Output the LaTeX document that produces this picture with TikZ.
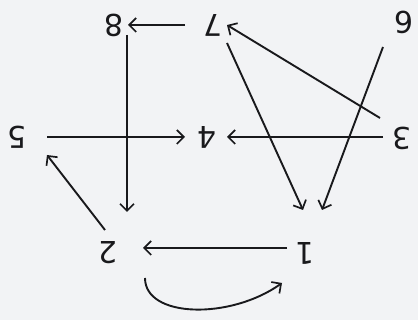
\documentclass[tikz,border=0pt]{standalone}
\usepackage{fontspec}
\newfontfamily\digitfont{DejaVu Sans}
\usetikzlibrary{arrows.meta}
\definecolor{bgc}{RGB}{242,243,245}
\definecolor{ink}{RGB}{25,25,28}
\begin{document}
\begin{tikzpicture}[x=1pt,y=-1pt,
  num/.style={inner sep=0pt,rotate=180,font=\digitfont\fontsize{30}{30}\selectfont,text=ink},
  arr/.style={draw=ink,line width=1.9pt,-{Straight Barb[length=7pt,width=14pt,line width=1.7pt]}}]
\fill[bgc] (0,0) rectangle (418,320);
\useasboundingbox (0,0) rectangle (418,320);
\node[num] (n1) at (305,253) {1};
\node[num] (n2) at (108,253) {2};
\node[num] (n3) at (402,138) {3};
\node[num] (n4) at (207,137) {4};
\node[num] (n5) at (17,137) {5};
\node[num] (n6) at (404,22) {6};
\node[num] (n7) at (213,25) {7};
\node[num] (n8) at (114,25) {8};
\draw[arr] ([shift={(-28,0)}]n7.center) -- ([shift={(14,0)}]n8.center);
\draw[arr] ([shift={(13,10)}]n8.center) -- ([shift={(19,-41)}]n2.center);
\draw[arr] ([shift={(30,0)}]n5.center) -- ([shift={(-22,0)}]n4.center);
\draw[arr] ([shift={(-19,-1)}]n3.center) -- ([shift={(20,0)}]n4.center);
\draw[arr] ([shift={(-22,-20)}]n3.center) -- ([shift={(14,0)}]n7.center);
\draw[arr] ([shift={(14,18)}]n7.center) -- ([shift={(-2,-43)}]n1.center);
\draw[arr] ([shift={(-21,25)}]n6.center) -- ([shift={(17,-43)}]n1.center);
\draw[arr] ([shift={(-3,-23)}]n2.center) -- ([shift={(30,18)}]n5.center);
\draw[arr] ([shift={(-18,-5)}]n1.center) -- ([shift={(35,-5)}]n2.center);
\draw[arr] ([shift={(37,25)}]n2.center) .. controls ([shift={(37,65)}]n2.center) and ([shift={(-75,67)}]n1.center) .. ([shift={(-23,30)}]n1.center);
\end{tikzpicture}
\end{document}
